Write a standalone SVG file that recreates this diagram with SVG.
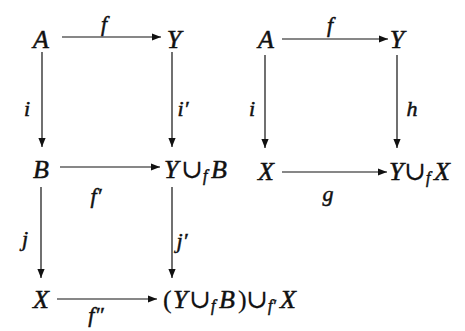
<svg xmlns="http://www.w3.org/2000/svg" width="465" height="331" viewBox="0 0 465 331">
<defs>
<marker id="ah" viewBox="0 0 10 10" refX="10" refY="5" markerWidth="9" markerHeight="9" markerUnits="userSpaceOnUse" orient="auto">
<path d="M0,1 L10,5 L0,9 Z" fill="#111"/>
</marker>
</defs>
<style>
text{font-style:italic;fill:#111;stroke:#111;stroke-width:0.5}
.n{font-size:26px}
.l{font-size:22px}
.s{font-size:16px}
.c{font-style:normal;stroke-width:0.2}
.u{font-style:normal;stroke-width:0.2;font-size:26px}
line{stroke:#111;stroke-width:1.2;marker-end:url(#ah)}
</style>
<rect width="465" height="331" fill="#fff"/>
<g font-family="'Liberation Serif', 'DejaVu Serif', serif">
<g id="connectors">
<line x1="62" y1="37" x2="161" y2="37"/>
<line x1="42" y1="52" x2="42" y2="147"/>
<line x1="172" y1="52" x2="172" y2="147"/>
<line x1="60" y1="167" x2="160" y2="167"/>
<line x1="41" y1="187" x2="41" y2="278"/>
<line x1="172" y1="187" x2="172" y2="278"/>
<line x1="57" y1="299" x2="157" y2="299"/>
<line x1="282" y1="39" x2="388" y2="39"/>
<line x1="265" y1="55" x2="265" y2="148"/>
<line x1="397" y1="55" x2="397" y2="148"/>
<line x1="282" y1="172" x2="387" y2="172"/>
<text class="l" x="104" y="31" text-anchor="middle">f</text>
<text class="l" x="27" y="116" text-anchor="middle">i</text>
<text class="l" x="183" y="116" text-anchor="middle">i′</text>
<text class="l" x="96" y="203" text-anchor="middle">f′</text>
<text class="l" x="25" y="246" text-anchor="middle">j</text>
<text class="l" x="182" y="248" text-anchor="middle">j′</text>
<text class="l" x="96" y="322" text-anchor="middle">f″</text>
<text class="l" x="330" y="32" text-anchor="middle">f</text>
<text class="l" x="252" y="116" text-anchor="middle">i</text>
<text class="l" x="412" y="116" text-anchor="middle">h</text>
<text class="l" x="328" y="201" text-anchor="middle">g</text>
</g>
<g id="A1"><text class="n" x="41" y="48" text-anchor="middle">A</text></g>
<g id="Y1"><text class="n" x="174" y="48" text-anchor="middle">Y</text></g>
<g id="B1"><text class="n" x="41" y="178" text-anchor="middle">B</text></g>
<g id="YB"><text class="n" y="178"><tspan x="164">Y</tspan><tspan class="u" x="181">∪</tspan><tspan class="s" x="203" dy="3">f</tspan><tspan x="211" dy="-3">B</tspan></text></g>
<g id="X1"><text class="n" x="41" y="308" text-anchor="middle">X</text></g>
<g id="YBX"><text class="n" y="308"><tspan class="c" x="163">(</tspan><tspan x="173">Y</tspan><tspan class="u" x="189">∪</tspan><tspan class="s" x="211" dy="3">f</tspan><tspan x="219" dy="-3">B</tspan><tspan class="c" x="238">)</tspan><tspan class="u" x="246">∪</tspan><tspan class="s" x="268" dy="3">f′</tspan><tspan x="280" dy="-3">X</tspan></text></g>
<g id="A2"><text class="n" x="266" y="48" text-anchor="middle">A</text></g>
<g id="Y2"><text class="n" x="397" y="48" text-anchor="middle">Y</text></g>
<g id="X2"><text class="n" x="266" y="180" text-anchor="middle">X</text></g>
<g id="YX"><text class="n" y="180"><tspan x="389">Y</tspan><tspan class="u" x="404">∪</tspan><tspan class="s" x="426" dy="3">f</tspan><tspan x="434" dy="-3">X</tspan></text></g>
</g>
</svg>
